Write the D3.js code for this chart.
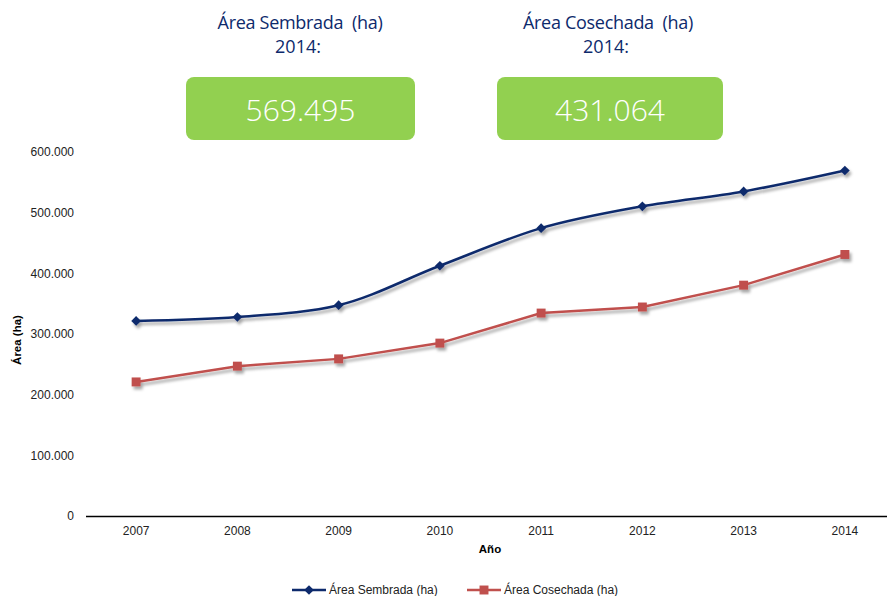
<!DOCTYPE html>
<html>
<head>
<meta charset="utf-8">
<script src="https://cdn.jsdelivr.net/npm/d3@7"></script>
<style>
  body { margin: 0; background: #fff; }
  svg { display: block; }
</style>
</head>
<body>
<div id="chart"></div>
<script>
// data
const years = ['2007', '2008', '2009', '2010', '2011', '2012', '2013', '2014'];
const sembrada = [321500, 328000, 347500, 412500, 474500, 510500, 535000, 569495];
const cosechada = [221000, 247000, 259000, 285000, 334500, 344500, 380500, 431064];
const yTicks = [0, 100000, 200000, 300000, 400000, 500000, 600000];
const headerTitles = ['Área Sembrada  (ha)', 'Área Cosechada  (ha)'];
const headerValues = ['569.495', '431.064'];
const seriesNames = ['Área Sembrada (ha)', 'Área Cosechada (ha)'];

const W = 887, H = 596;
const navy = '#0d2a6c', red = '#c0504d', green = '#92d050';
const axisFont = 'Liberation Sans, Arial, sans-serif';

const svg = d3.select('#chart').append('svg')
    .attr('width', W)
    .attr('height', H);

// drop shadow for the lines
const defs = svg.append('defs');
const f = defs.append('filter').attr('id', 'shadow')
    .attr('x', '-10%').attr('y', '-10%').attr('width', '130%').attr('height', '140%');
f.append('feDropShadow')
    .attr('dx', 2).attr('dy', 3)
    .attr('stdDeviation', 1.5)
    .attr('flood-color', '#000')
    .attr('flood-opacity', 0.35);

// header boxes
const headerX = [300, 608];
const boxes = [{x: 186, w: 229}, {x: 497, w: 226}];
headerTitles.forEach((t, i) => {
    const g = svg.append('g');
    g.append('text')
        .attr('x', headerX[i]).attr('y', 29)
        .attr('text-anchor', 'middle')
        .style('font-family', 'Open Sans, sans-serif')
        .style('font-size', '18px')
        .style('letter-spacing', '-0.3px')
        .style('fill', navy)
        .style('white-space', 'pre')
        .text(t);
    g.append('text')
        .attr('x', headerX[i] - 2).attr('y', 53)
        .attr('text-anchor', 'middle')
        .style('font-family', 'Open Sans, sans-serif')
        .style('font-size', '18px')
        .style('fill', navy)
        .text('2014:');
    g.append('rect')
        .attr('x', boxes[i].x).attr('y', 77)
        .attr('width', boxes[i].w).attr('height', 63)
        .attr('rx', 8)
        .style('fill', green);
    g.append('text')
        .attr('x', boxes[i].x + boxes[i].w / 2).attr('y', 121)
        .attr('text-anchor', 'middle')
        .style('font-family', 'Open Sans, sans-serif')
        .style('font-weight', 300)
        .style('font-size', '30px')
        .style('fill', '#fff')
        .text(headerValues[i]);
});

// scales
const xScale = d3.scaleBand()
    .domain(years)
    .range([85.5, 895.5]);

const yScale = d3.scaleLinear()
    .domain([0, 600000])
    .range([516, 152]);

const cx = d => xScale(d) + xScale.bandwidth() / 2;
const fmt = v => v === 0 ? '0' : d3.format(',')(v).replace(/,/g, '.');

// y axis (labels only)
const yAxis = svg.append('g')
    .attr('transform', 'translate(85,0)')
    .call(d3.axisLeft(yScale).tickValues(yTicks).tickFormat(fmt).tickSize(0).tickPadding(11));
yAxis.select('.domain').remove();
yAxis.selectAll('text')
    .style('font-family', axisFont)
    .style('font-size', '12px')
    .style('fill', '#222');

// x axis
const xAxis = svg.append('g')
    .attr('transform', 'translate(0,516)')
    .call(d3.axisBottom(xScale).tickSize(0).tickPadding(10));
xAxis.select('.domain').attr('stroke', '#000').attr('stroke-width', 1.5);
xAxis.selectAll('text')
    .style('font-family', axisFont)
    .style('font-size', '12px')
    .style('fill', '#222');

// axis titles
svg.append('text')
    .attr('transform', 'translate(21,340) rotate(-90)')
    .attr('text-anchor', 'middle')
    .style('font-family', axisFont)
    .style('font-size', '11.5px')
    .style('font-weight', 'bold')
    .text('Área (ha)');

svg.append('text')
    .attr('x', 490).attr('y', 553)
    .attr('text-anchor', 'middle')
    .style('font-family', axisFont)
    .style('font-size', '11.5px')
    .style('font-weight', 'bold')
    .text('Año');

// lines
const lineSmooth = d3.line()
    .x((d, i) => cx(years[i]))
    .y(d => yScale(d))
    .curve(d3.curveMonotoneX);

const lineStraight = d3.line()
    .x((d, i) => cx(years[i]))
    .y(d => yScale(d));

const plot = svg.append('g').attr('filter', 'url(#shadow)');

plot.append('path')
    .datum(sembrada)
    .attr('d', lineSmooth)
    .attr('fill', 'none')
    .attr('stroke', navy)
    .attr('stroke-width', 2.5);

plot.append('path')
    .datum(cosechada)
    .attr('d', lineStraight)
    .attr('fill', 'none')
    .attr('stroke', red)
    .attr('stroke-width', 2.5);

const diamond = d3.symbol().type(d3.symbolDiamond2).size(60);
const square = d3.symbol().type(d3.symbolSquare).size(80);

plot.selectAll('.dia')
    .data(sembrada)
    .enter()
    .append('path')
    .attr('class', 'dia')
    .attr('d', diamond)
    .attr('transform', (d, i) => 'translate(' + cx(years[i]) + ',' + yScale(d) + ')')
    .style('fill', navy);

plot.selectAll('.sq')
    .data(cosechada)
    .enter()
    .append('path')
    .attr('class', 'sq')
    .attr('d', square)
    .attr('transform', (d, i) => 'translate(' + cx(years[i]) + ',' + yScale(d) + ')')
    .style('fill', red);

// legend
const legend = [
    {x: 292, color: navy, sym: diamond, name: seriesNames[0]},
    {x: 467, color: red, sym: square, name: seriesNames[1]}
];
legend.forEach(l => {
    const g = svg.append('g').attr('transform', 'translate(' + l.x + ',590)');
    g.append('line')
        .attr('x1', 0).attr('x2', 34)
        .attr('y1', 0).attr('y2', 0)
        .attr('stroke', l.color)
        .attr('stroke-width', 2.5);
    g.append('path')
        .attr('d', l.sym)
        .attr('transform', 'translate(17,0)')
        .style('fill', l.color);
    g.append('text')
        .attr('x', 37).attr('y', 4)
        .style('font-family', axisFont)
        .style('font-size', '12px')
        .style('fill', '#222')
        .text(l.name);
});
</script>
</body>
</html>
